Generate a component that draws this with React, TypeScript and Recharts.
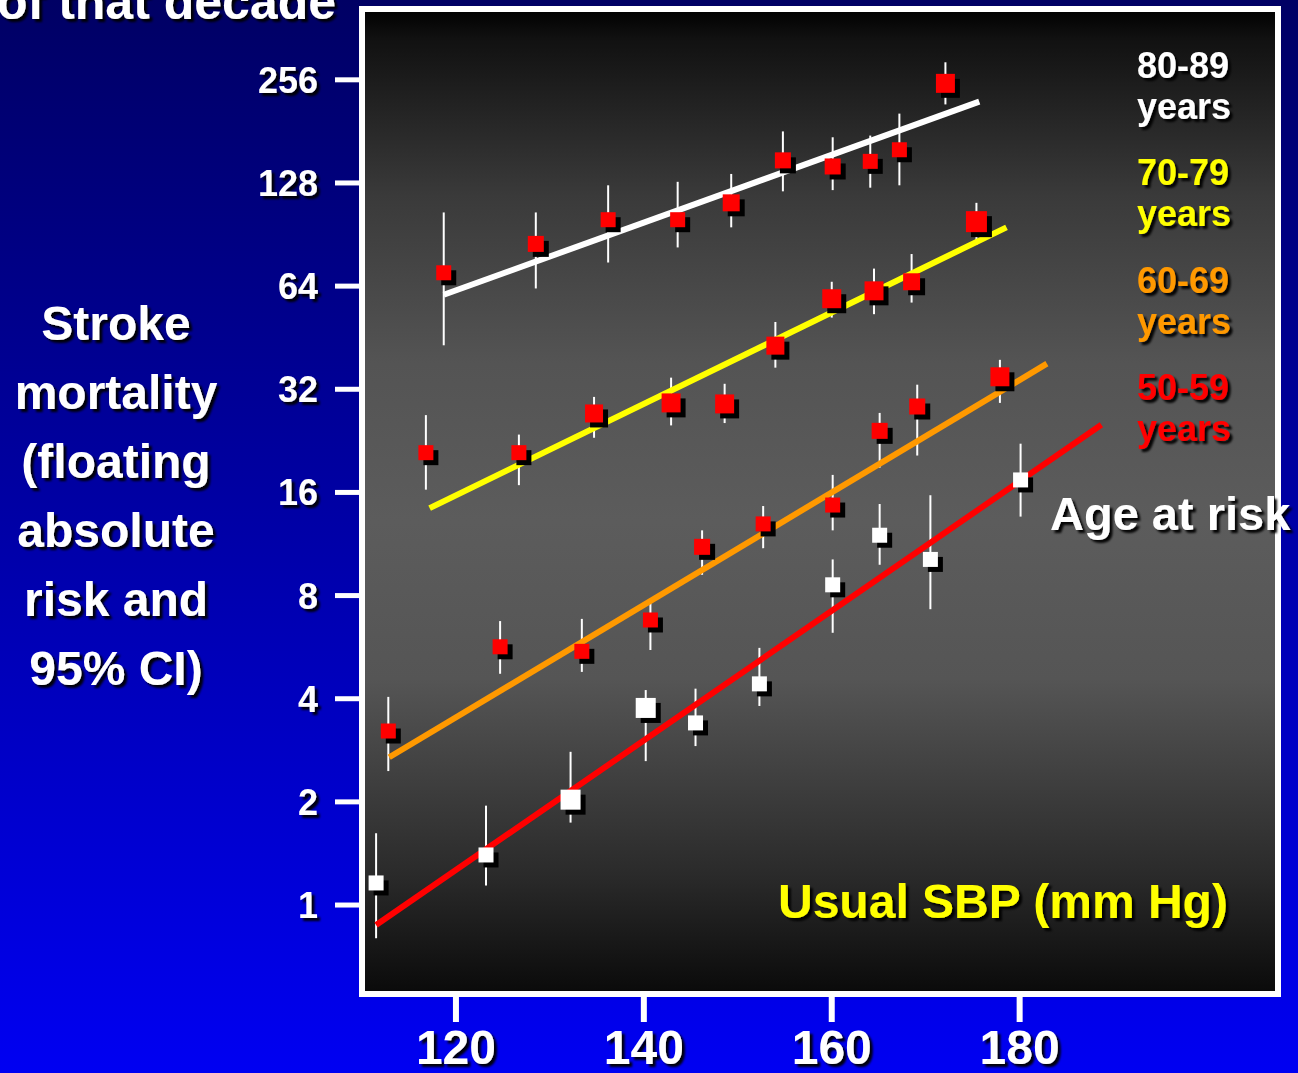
import React from "react";
import {
  ScatterChart,
  Scatter,
  XAxis,
  YAxis,
  ZAxis,
  ErrorBar,
  CartesianGrid,
  ReferenceArea,
} from "recharts";

type Pt = { sbp: number; risk: number; lo: number; hi: number; w: number };
type FitPt = { sbp: number; risk: number };

// usual SBP, stroke mortality, 95% CI bounds, relative weight (square area)
const age80: Pt[] = [
  { sbp: 118.7, risk: 70, lo: 43, hi: 105, w: 1 },
  { sbp: 128.5, risk: 85, lo: 63, hi: 105, w: 1.14 },
  { sbp: 136.2, risk: 100, lo: 75, hi: 126, w: 1 },
  { sbp: 143.6, risk: 100, lo: 83, hi: 129, w: 1 },
  { sbp: 149.3, risk: 112, lo: 95, hi: 136, w: 1.28 },
  { sbp: 154.8, risk: 149, lo: 121, hi: 181, w: 1.14 },
  { sbp: 160.1, risk: 143, lo: 122, hi: 174, w: 1.14 },
  { sbp: 164.1, risk: 148, lo: 124, hi: 176, w: 1 },
  { sbp: 167.2, risk: 160, lo: 126, hi: 204, w: 1 },
  { sbp: 172.1, risk: 250, lo: 217, hi: 288, w: 1.6 },
];

const age70: Pt[] = [
  { sbp: 116.8, risk: 20.9, lo: 16.3, hi: 26.9, w: 1 },
  { sbp: 126.7, risk: 20.9, lo: 16.8, hi: 23.6, w: 1 },
  { sbp: 134.7, risk: 27.2, lo: 23.1, hi: 30.4, w: 1.44 },
  { sbp: 142.9, risk: 29.2, lo: 25.1, hi: 34.6, w: 1.6 },
  { sbp: 148.6, risk: 29.0, lo: 25.5, hi: 33.2, w: 1.6 },
  { sbp: 154.0, risk: 42.9, lo: 37, hi: 50.3, w: 1.44 },
  { sbp: 160.0, risk: 58.8, lo: 51.8, hi: 65.9, w: 1.6 },
  { sbp: 164.5, risk: 62, lo: 53, hi: 72, w: 1.6 },
  { sbp: 168.5, risk: 65.9, lo: 57.3, hi: 79.4, w: 1.28 },
  { sbp: 175.4, risk: 98.7, lo: 84.5, hi: 112, w: 1.96 },
];

const age60: Pt[] = [
  { sbp: 112.8, risk: 3.22, lo: 2.46, hi: 4.05, w: 1 },
  { sbp: 124.7, risk: 5.67, lo: 4.73, hi: 6.74, w: 1 },
  { sbp: 133.4, risk: 5.5, lo: 4.79, hi: 6.84, w: 1 },
  { sbp: 140.7, risk: 6.79, lo: 5.55, hi: 7.83, w: 1 },
  { sbp: 146.2, risk: 11.1, lo: 9.2, hi: 12.4, w: 1.14 },
  { sbp: 152.7, risk: 12.95, lo: 11, hi: 14.6, w: 1 },
  { sbp: 160.1, risk: 14.7, lo: 12.4, hi: 18, w: 1 },
  { sbp: 165.1, risk: 24.2, lo: 18.9, hi: 27.3, w: 1.14 },
  { sbp: 169.1, risk: 28.5, lo: 20.5, hi: 33, w: 1.14 },
  { sbp: 177.9, risk: 34.8, lo: 29.2, hi: 39, w: 1.6 },
];

const age50: Pt[] = [
  { sbp: 111.5, risk: 1.16, lo: 0.8, hi: 1.62, w: 1 },
  { sbp: 123.2, risk: 1.4, lo: 1.14, hi: 1.95, w: 1 },
  { sbp: 132.2, risk: 2.03, lo: 1.74, hi: 2.8, w: 1.78 },
  { sbp: 140.2, risk: 3.76, lo: 2.63, hi: 4.24, w: 1.78 },
  { sbp: 145.5, risk: 3.4, lo: 2.91, hi: 4.28, w: 1 },
  { sbp: 152.3, risk: 4.42, lo: 3.81, hi: 5.63, w: 1 },
  { sbp: 160.1, risk: 8.6, lo: 6.23, hi: 10.2, w: 1 },
  { sbp: 165.1, risk: 12.0, lo: 9.84, hi: 14.8, w: 1 },
  { sbp: 170.5, risk: 10.2, lo: 7.3, hi: 15.7, w: 1 },
  { sbp: 180.1, risk: 17.4, lo: 13.6, hi: 22.2, w: 1 },
];

// fitted log-linear trend per decade (end points)
const fit80: FitPt[] = [{ sbp: 118.7, risk: 60.4 }, { sbp: 175.7, risk: 221 }];
const fit70: FitPt[] = [{ sbp: 117.2, risk: 14.4 }, { sbp: 178.6, risk: 95 }];
const fit60: FitPt[] = [{ sbp: 112.9, risk: 2.7 }, { sbp: 182.9, risk: 38 }];
const fit50: FitPt[] = [{ sbp: 111.5, risk: 0.874 }, { sbp: 188.7, risk: 25.2 }];

const Y_TICKS = [1, 2, 4, 8, 16, 32, 64, 128, 256];
const X_TICKS = [120, 140, 160, 180];

const ageLabels = ["80-89", "70-79", "60-69", "50-59"];
const ageColors = ["#ffffff", "#ffff00", "#ff9900", "#ff0000"];
const yTitle = ["Stroke", "mortality", "(floating", "absolute", "risk and", "95% CI)"];

const FONT = "'Liberation Sans', Arial, Helvetica, sans-serif";
const W = 1298;
const H = 1073;

const withErr = (pts: Pt[]) => pts.map((p) => ({ ...p, err: [p.risk - p.lo, p.hi - p.risk] }));

const makeSquare = (fill: string) => (props: any) => {
  const { cx, cy } = props;
  const s = props.width ?? 2 * Math.sqrt((props.size ?? 177) / Math.PI);
  return (
    <g>
      <rect x={cx - s / 2 + 5} y={cy - s / 2 + 5} width={s} height={s} fill="#000" />
      <rect x={cx - s / 2} y={cy - s / 2} width={s} height={s} fill={fill} />
    </g>
  );
};

const noDot = () => <g />;

const YTick = ({ x, y, payload }: any) => (
  <text
    x={x}
    y={y}
    dy={13}
    textAnchor="end"
    fill="#fff"
    fontSize={36}
    fontWeight="bold"
    fontFamily={FONT}
    filter="url(#txtShadow)"
  >
    {payload.value}
  </text>
);

const XTick = ({ x, y, payload }: any) => (
  <text
    x={x}
    y={y}
    dy={42}
    textAnchor="middle"
    fill="#fff"
    fontSize={48}
    fontWeight="bold"
    fontFamily={FONT}
    filter="url(#txtShadow)"
  >
    {payload.value}
  </text>
);

const series = [
  { data: withErr(age80), fit: fit80, fill: "#ff0000", line: "#ffffff" },
  { data: withErr(age70), fit: fit70, fill: "#ff0000", line: "#ffff00" },
  { data: withErr(age60), fit: fit60, fill: "#ff0000", line: "#ff9900" },
  { data: withErr(age50), fit: fit50, fill: "#ffffff", line: "#ff0000" },
];

export default function App() {
  return (
    <div
      style={{
        position: "absolute",
        left: 0,
        top: 0,
        width: W,
        height: H,
        overflow: "hidden",
        background: "linear-gradient(to bottom, #000064 0%, #0000a8 50%, #0000f2 100%)",
      }}
    >
      <ScatterChart width={W} height={H} margin={{ top: 9, right: 20, bottom: 0, left: 302 }}>
        <CartesianGrid horizontal={false} vertical={false} stroke="none" fill="url(#plotBg)" />
        <XAxis
          type="number"
          dataKey="sbp"
          domain={[110, 207.5]}
          ticks={X_TICKS}
          allowDataOverflow
          height={79}
          axisLine={false}
          tickSize={28}
          tickMargin={0}
          tickLine={{ stroke: "#fff", strokeWidth: 6 }}
          tick={<XTick />}
        />
        <YAxis
          type="number"
          dataKey="risk"
          scale="log"
          domain={[0.55, 412]}
          ticks={Y_TICKS}
          allowDataOverflow
          width={60}
          axisLine={false}
          tickSize={27}
          tickMargin={17}
          tickLine={{ stroke: "#fff", strokeWidth: 5 }}
          tick={<YTick />}
        />
        <ZAxis type="number" dataKey="w" domain={[0, 2]} range={[0, 353.4]} />

        {series.map((s, i) => (
          <Scatter
            key={`fit-${i}`}
            data={s.fit}
            fill={s.line}
            line={{ stroke: s.line, strokeWidth: 6 }}
            lineType="joint"
            shape={noDot}
            isAnimationActive={false}
          />
        ))}

        {series.map((s, i) => (
          <Scatter
            key={`pts-${i}`}
            data={s.data}
            fill={s.fill}
            shape={makeSquare(s.fill)}
            isAnimationActive={false}
          >
            <ErrorBar
              dataKey="err"
              direction="y"
              width={0}
              stroke="#fff"
              strokeWidth={2}
              isAnimationActive={false}
            />
          </Scatter>
        ))}

        <ReferenceArea
          x1={110}
          x2={207.5}
          y1={0.55}
          y2={412}
          fill="none"
          fillOpacity={0}
          stroke="#fff"
          strokeWidth={6}
          ifOverflow="visible"
        />
      </ScatterChart>

      <svg
        width={W}
        height={H}
        style={{ position: "absolute", left: 0, top: 0, pointerEvents: "none" }}
      >
        <defs>
          <linearGradient id="plotBg" x1="0" y1="0" x2="0" y2="1">
            <stop offset="0" stopColor="#000000" />
            <stop offset="0.03" stopColor="#111111" />
            <stop offset="0.19" stopColor="#3a3a3a" />
            <stop offset="0.36" stopColor="#545454" />
            <stop offset="0.52" stopColor="#5c5c5c" />
            <stop offset="0.68" stopColor="#555555" />
            <stop offset="0.88" stopColor="#2a2a2a" />
            <stop offset="1" stopColor="#0a0a0a" />
          </linearGradient>
          <filter id="txtShadow" x="-10%" y="-20%" width="130%" height="150%">
            <feDropShadow dx="3" dy="3" stdDeviation="1.2" floodColor="#000" floodOpacity="0.95" />
          </filter>
        </defs>

        <g fontFamily={FONT} fontWeight="bold" filter="url(#txtShadow)">
          {/* tail of the slide heading, running off the top edge */}
          <text x={336} y={19} textAnchor="end" fontSize={50} fill="#fff">
            of that decade
          </text>

          {yTitle.map((t, i) => (
            <text key={t} x={116} y={340 + i * 69} textAnchor="middle" fontSize={48} fill="#fff">
              {t}
            </text>
          ))}

          {ageLabels.map((lab, i) => (
            <g key={lab} fill={ageColors[i]} fontSize={36}>
              <text x={1137} y={78 + i * 107.3}>
                {lab}
              </text>
              <text x={1137} y={119 + i * 107.3}>
                years
              </text>
            </g>
          ))}

          <text x={1050} y={530} fontSize={47} fill="#fff">
            Age at risk
          </text>
          <text x={778} y={918} fontSize={48} fill="#ffff00">
            Usual SBP (mm Hg)
          </text>
        </g>
      </svg>
    </div>
  );
}
